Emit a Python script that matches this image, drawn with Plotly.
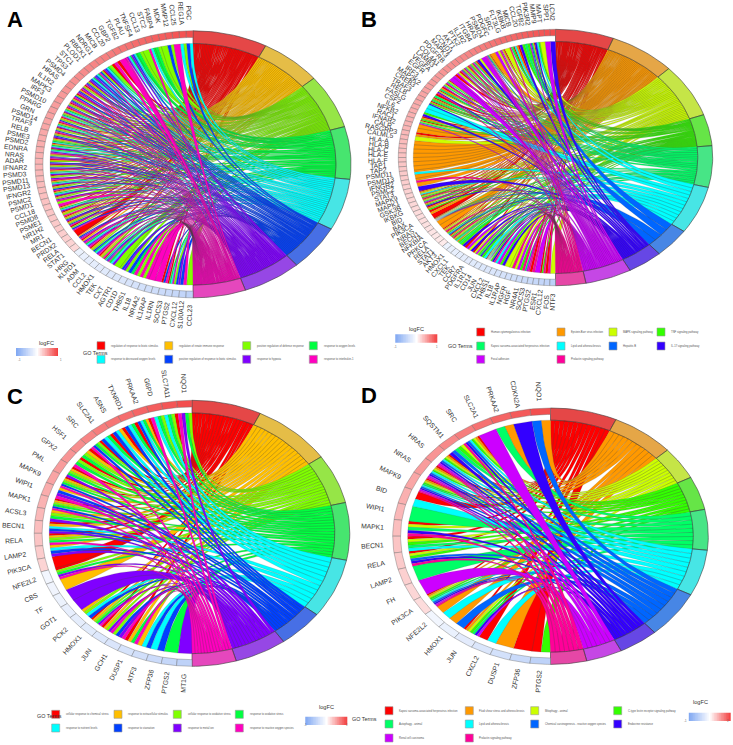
import numpy as np
import plotly.graph_objects as go
from plotly.colors import sample_colorscale

RAIN8 = ["#FF0000", "#FFBF00", "#80FF00", "#00FF40", "#00FFFF", "#0040FF", "#8000FF", "#FF00BF"]
RAIN10 = ["#FF0000", "#FF9900", "#CCFF00", "#33FF00", "#00FF66", "#00FFFF", "#0066FF", "#3300FF", "#CC00FF", "#FF0099"]
LFC_SCALE = [[0, "#7EA6F2"], [0.5, "#FFFFFF"], [1, "#F23A3A"]]

a_terms = ["regulation of response to biotic stimulus", "regulation of innate immune response",
           "positive regulation of defense response", "response to oxygen levels",
           "response to decreased oxygen levels", "positive regulation of response to biotic stimulus",
           "response to hypoxia", "response to interleukin-1"]
a_term_sizes = [27.4, 22.5, 23.7, 22.9, 22.5, 20.0, 21.6, 19.4]
a_genes = ["PGC", "REG1A", "CCL25", "MMP12", "MDK", "FABP4", "STC2", "CCL13", "TNFSF4", "PLAU",
           "TGFB2", "GBP2", "CCL20", "MICB", "NDRG1", "RBCK1", "PLOD1", "STC1", "TP53", "PSMD4",
           "HRAS", "IL1R2", "MAPK3", "IRF3", "PSMD10", "PPARG", "GRN", "PSMD14", "TRAF3", "RELB",
           "PSME3", "PSMD2", "EDNRA", "NRAS", "ADAR", "IFNAR2", "PSMD3", "PSMD11", "PSMD13", "IFNGR2",
           "PSMC2", "PSMD1", "CCL18", "PSMD8", "PSME1", "NR1H2", "MR1", "BECN1", "PRDX2", "RELA",
           "STAT1", "HRG", "KLRD1", "ADM", "CCL2", "HMOX1", "TEK", "CXT", "AGTR1", "CD1D",
           "THBS1", "IL18", "NR4A2", "IL1RAP", "IL1RN", "SOCS3", "PTGS2", "CXCL12", "S100A12", "CCL23"]
a_sets = ["45", "24", "7", "25", "2", "23", "347", "2", "23", "3456",
          "3467", "7", "07", "02", "3456", "0257", "3456", "3456", "012567", "01267",
          "01567", "0257", "012567", "01257", "01346", "012347", "01257", "01346", "01257", "01256",
          "01234", "01346", "03467", "012567", "01256", "01257", "01346", "01267", "01346", "01257",
          "01346", "01267", "27", "01346", "0127", "01256", "01257", "0257", "0", "01567",
          "0167", "3467", "0125", "3467", "0127", "034567", "346", "2", "256", "25",
          "37", "27", "27", "7", "7", "057", "0347", "256", "57", "2"]
a_lfc = [.90, .88, .86, .84, .82, .80, .78, .76, .74, .72, .70, .68, .66, .65, .63, .62, .60, .59, .58, .56,
         .55, .54, .52, .51, .50, .48, .47, .46, .45, .44, .42, .41, .40, .39, .38, .37, .36, .35, .34, .33,
         .32, .31, .30, .29, .28, .27, .26, .25, .24, .22, .20,
         -.15, -.17, -.19, -.20, -.22, -.24, -.26, -.27, -.28, -.30, -.32, -.34, -.36, -.38, -.40, -.42, -.44, -.47, -.50]

b_terms = ["Human cytomegalovirus infection", "Epstein-Barr virus infection", "MAPK signaling pathway",
           "TNF signaling pathway", "Kaposi sarcoma-associated herpesvirus infection", "Lipid and atherosclerosis",
           "Hepatitis B", "IL-17 signaling pathway", "Focal adhesion", "Prolactin signaling pathway"]
b_term_sizes = [21.6, 24.5, 24.4, 14.2, 18.8, 21.7, 13.5, 13.0, 17.1, 11.2]
b_genes = ["LCN2", "SPP1", "MAPT", "MMP9", "PIK3R2", "TGFB2", "CCL20", "MICB", "IKBKB", "FLT3LG",
           "SRC", "PDGFC", "PSMD4", "HRAS", "ITGB4", "IL1R2", "PTK2", "AKT1", "CCND1", "MAPK3",
           "PDGFRB", "COL4A1", "LAMB3", "VEGFA", "EGFR", "IRF3", "MAP2K2", "CREB3", "TRAF3", "RELB",
           "FASLG", "CSF2", "IL6", "NFKB2", "RAC1", "IFNAR2", "CALR", "RASGRP3", "CALML5", "HLA-A",
           "HLA-B", "HLA-C", "HLA-E", "HLA-F", "TAP1", "TAP2", "PSMD11", "PSMD13", "IFNGR2", "PSMC2",
           "STAT3", "MAPK9", "MAPK1", "GSK3B", "IKBKG", "BID", "BAX", "PIK3CA", "NRAS", "BECN1",
           "NFKBIA", "PRKCA", "RELA", "STAT1",
           "AKT3", "HMOX1", "CXCL1", "TEK", "CCR7", "PDGFRA", "IL1R1", "CD14", "JUN", "CXCL2",
           "THBS1", "IL18", "IL1RAP", "NGFR", "HGF", "NR4A1", "SOCS3", "PTGS2", "ESR1", "CXCL12", "FOS", "NTF3"]
b_sets = ["7", "8", "2", "357", "02468", "34", "37", "015", "0349", "2",
          "01289", "28", "1", "0124689", "8", "27", "0148", "0123489", "01248", "0123789",
          "028", "08", "8", "0248", "0248", "014", "0279", "04", "0134", "0137",
          "5", "5", "37", "013", "0248", "1", "1", "01", "2", "1",
          "1", "1", "1", "1", "1", "1", "15", "1", "19", "1",
          "7", "0125", "01239", "01248", "0137", "013", "01", "0", "0124568", "1",
          "1", "0129", "01356", "0139",
          "012345", "134", "37", "08", "27", "028", "2347", "35", "0234579", "379",
          "58", "37", "2", "29", "28", "39", "489", "09", "8", "039", "09", "2"]
b_lfc = [.90, .88, .86, .85, .83, .81, .79, .77, .75, .74, .72, .70, .68, .66, .65, .63, .62, .60, .59, .58,
         .56, .55, .54, .52, .51, .50, .48, .47, .46, .45, .44, .42, .41, .40, .39, .38, .37, .36, .35, .34,
         .33, .32, .31, .30, .29, .28, .27, .26, .25, .24, .23, .22, .21, .20, .19, .18, .17, .16, .15, .14,
         .13, .12, .11, .10,
         -.15, -.17, -.18, -.19, -.20, -.22, -.23, -.24, -.26, -.27, -.28, -.30, -.32, -.34, -.36, -.38, -.40, -.42, -.44, -.46, -.48, -.52]

c_terms = ["cellular response to chemical stress", "response to extracellular stimulus",
           "cellular response to oxidative stress", "response to oxidative stress", "response to nutrient levels",
           "response to starvation", "response to metal ion", "response to reactive oxygen species"]
c_term_sizes = [25.6, 29.3, 21.7, 25.1, 26.0, 16.8, 19.2, 16.3]
c_genes = ["NQO1", "SLC7A11", "G6PD", "PRKAA2", "TXNRD1", "ASNS", "SLC2A1", "SRC", "HSF1", "GPX2", "PML",
           "MAPK9", "WIPI1", "MAPK1", "ACSL3", "BECN1", "RELA", "LAMP2", "PIK3CA", "NFE2L2", "CBS", "TF", "GOT1",
           "PCK2", "HMOX1", "JUN", "GCH1", "DUSP1", "ATF3", "ZFP36", "PTGS2", "MT1G"]
c_sets = ["2367", "0234", "2347", "01345", "0345", "0145", "0345", "02357", "0123", "0237", "01236",
          "012357", "1567", "012357", "1236", "01456", "01237", "1456", "0", "02367", "1", "6", "6",
          "1245", "012367", "01267", "2567", "0137", "145", "45", "3", "6"]
c_lfc = [.90, .86, .82, .78, .74, .70, .66, .62, .58, .54, .50, .46, .42, .39, .36, .33, .30, .26, .22,
         -.10, -.12, -.15, -.18, -.20, -.23, -.26, -.29, -.32, -.36, -.40, -.45, -.50]

d_terms = ["Kaposi sarcoma-associated herpesvirus infection", "Fluid shear stress and atherosclerosis",
           "Mitophagy - animal", "C-type lectin receptor signaling pathway", "Autophagy - animal",
           "Lipid and atherosclerosis", "Chemical carcinogenesis - reactive oxygen species", "Endocrine resistance",
           "Renal cell carcinoma", "Prolactin signaling pathway"]
d_term_sizes = [24.5, 23.3, 14.9, 15.2, 18.4, 20.9, 21.5, 14.7, 13.3, 13.3]
d_genes = ["NQO1", "CDKN2A", "PRKAA2", "SLC2A1", "SRC", "SQSTM1", "HRAS", "NRAS", "MAPK9", "BID", "WIPI1",
           "MAPK1", "BECN1", "RELA", "LAMP2", "FH", "PIK3CA", "NFE2L2", "HMOX1", "JUN", "CXCL2", "DUSP1",
           "ZFP36", "PTGS2"]
d_sets = ["16", "7", "14", "8", "01235679", "23467", "012356789", "012356789", "0123456789", "05", "4",
          "02479", "02345", "023679", "4", "8", "0123456789", "15", "16", "0123478", "05", "1", "0", "03"]
d_lfc = [.90, .84, .78, .72, .66, .60, .54, .50, .45, .40, .36, .33, .30, .27, .24, .21, .18,
         -.10, -.16, -.22, -.28, -.34, -.42, -.50]

# pixel placement of each chord panel: centre and radii
PANELS = [
    dict(letter="A", terms=a_terms, sizes=a_term_sizes, genes=a_genes, sets=a_sets, lfc=a_lfc, colors=RAIN8,
         cx=193.0, cy=164.3, rx=158.0, ry=133.5, lx=15, ly=20,
         bar=(16, 58, 348, 356), lfc_y=343, go=(81, 352.7), rows=[345.7, 359.3],
         sw=[101, 168.7, 246.7, 313.3], ncol=4),
    dict(letter="B", terms=b_terms, sizes=b_term_sizes, genes=b_genes, sets=b_sets, lfc=b_lfc, colors=RAIN10,
         cx=555.5, cy=157.5, rx=157.2, ry=128.2, lx=369, ly=20,
         bar=(395.3, 437.3, 334.3, 342.7), lfc_y=329.3, go=(460, 346), rows=[332, 346, 359.3],
         sw=[480.7, 561, 613, 661], ncol=4),
    dict(letter="C", terms=c_terms, sizes=c_term_sizes, genes=c_genes, sets=c_sets, lfc=c_lfc, colors=RAIN8,
         cx=192.0, cy=533.3, rx=157.8, ry=133.0, lx=15, ly=396,
         bar=(305.3, 347.3, 716.7, 725), lfc_y=711.7, go=(35, 721.3), rows=[714.3, 728],
         sw=[55.7, 118, 177.3, 239.3], ncol=4),
    dict(letter="D", terms=d_terms, sizes=d_term_sizes, genes=d_genes, sets=d_sets, lfc=d_lfc, colors=RAIN10,
         cx=550.5, cy=536.2, rx=157.8, ry=128.2, lx=369, ly=395,
         bar=(688.7, 730.7, 712.7, 721), lfc_y=707.3, go=(364.5, 724), rows=[710.7, 724, 738],
         sw=[389, 469.3, 534.7, 617.7], ncol=4),
]

W, H = 733, 745
R_OUT, R_GENE, R_RIB = 1.0, 0.95, 0.905
LABEL_R = 1.13
FONT = "Liberation Sans, Arial, sans-serif"


def arc(a0, a1, r, n=8):
    ang = np.radians(np.linspace(a0, a1, n))
    return r * np.sin(ang), r * np.cos(ang)


def band(a0, a1, r0, r1):
    x0, y0 = arc(a0, a1, r1, 14)
    x1, y1 = arc(a1, a0, r0, 14)
    return np.r_[x0, x1, x0[0]], np.r_[y0, y1, y0[0]]


def shade(hexcol, k=0.86, alpha=0.72):
    r, g, b = [int(hexcol[i:i + 2], 16) for i in (1, 3, 5)]
    return f"rgba({int(r * k)},{int(g * k)},{int(b * k)},{alpha})"


fig = go.Figure()
layout = dict(width=W, height=H, margin=dict(l=0, r=0, t=0, b=0), showlegend=False,
              paper_bgcolor="white", plot_bgcolor="rgba(0,0,0,0)")
annotations, shapes = [], []


def px_x(v):
    return v / W


def px_y(v):
    return 1 - v / H


for p_i, P in enumerate(PANELS):
    sfx = "" if p_i == 0 else str(p_i + 1)
    xa, ya = "x" + sfx, "y" + sfx
    layout["xaxis" + sfx] = dict(domain=[0, 1], range=[-P["cx"] / P["rx"], (W - P["cx"]) / P["rx"]],
                                 visible=False, fixedrange=True)
    layout["yaxis" + sfx] = dict(domain=[0, 1], range=[-(H - P["cy"]) / P["ry"], P["cy"] / P["ry"]],
                                 visible=False, fixedrange=True)
    genes, sets, lfc, sizes, cols = P["genes"], P["sets"], P["lfc"], P["sizes"], P["colors"]
    assert len(genes) == len(sets) == len(lfc), (P["letter"], len(genes), len(sets), len(lfc))
    n = len(genes)
    step = 180.0 / n

    # term sectors along the right half
    edges = np.r_[0, np.cumsum(sizes)] * 180.0 / sum(sizes)
    nterm = len(sizes)
    counts = [sum(str(t) in s for s in sets) for t in range(nterm)]
    used = [0] * nterm
    rib = [([], []) for _ in range(nterm)]
    s = np.linspace(0, 1, 36)
    for g, st in enumerate(sets):
        sub = step / len(st)
        for k, ch in enumerate(st):
            t = int(ch)
            g0, g1 = g * step + k * sub, g * step + (k + 1) * sub
            w = (edges[t + 1] - edges[t]) / counts[t]
            t0 = edges[t] + used[t] * w
            t1 = t0 + w
            used[t] += 1
            gx0, gy0 = R_RIB * np.sin(np.radians(-g0)), R_RIB * np.cos(np.radians(g0))
            gx1, gy1 = R_RIB * np.sin(np.radians(-g1)), R_RIB * np.cos(np.radians(g1))
            tx0, ty0 = R_RIB * np.sin(np.radians(t0)), R_RIB * np.cos(np.radians(t0))
            tx1, ty1 = R_RIB * np.sin(np.radians(t1)), R_RIB * np.cos(np.radians(t1))
            ax, ay = (1 - s) ** 2 * gx0 + s ** 2 * tx0, (1 - s) ** 2 * gy0 + s ** 2 * ty0
            bx, by = (1 - s) ** 2 * gx1 + s ** 2 * tx1, (1 - s) ** 2 * gy1 + s ** 2 * ty1
            xs = np.r_[ax, bx[::-1], ax[0]]
            ys = np.r_[ay, by[::-1], ay[0]]
            rib[t][0].extend(xs.tolist() + [None])
            rib[t][1].extend(ys.tolist() + [None])
    for t in range(nterm):
        fig.add_trace(go.Scatter(x=rib[t][0], y=rib[t][1], mode="lines", fill="toself", fillcolor=cols[t],
                                 line=dict(color="rgba(70,70,70,0.55)", width=0.3), hoverinfo="skip",
                                 xaxis=xa, yaxis=ya))
    # term ring
    for t in range(nterm):
        bx, by = band(edges[t], edges[t + 1], R_RIB, R_OUT)
        fig.add_trace(go.Scatter(x=bx, y=by, mode="lines", fill="toself", fillcolor=shade(cols[t]),
                                 line=dict(color="#3c3c3c", width=0.6), hoverinfo="skip", xaxis=xa, yaxis=ya))
    # gene ring and labels
    gcols = sample_colorscale(LFC_SCALE, [(v + 1) / 2 for v in lfc])
    for g in range(n):
        bx, by = band(-g * step, -(g + 1) * step, R_GENE, R_OUT)
        fig.add_trace(go.Scatter(x=bx, y=by, mode="lines", fill="toself", fillcolor=gcols[g],
                                 line=dict(color="#6a6a6a", width=0.4), hoverinfo="skip", xaxis=xa, yaxis=ya))
        th = (g + 0.5) * step
        annotations.append(dict(x=-LABEL_R * np.sin(np.radians(th)), y=LABEL_R * np.cos(np.radians(th)),
                                xref=xa, yref=ya, text=genes[g], showarrow=False, textangle=90 - th,
                                xanchor="center", yanchor="middle",
                                font=dict(family=FONT, size=6.8, color="#333333")))
    # panel letter
    annotations.append(dict(x=px_x(P["lx"]), y=px_y(P["ly"]), xref="paper", yref="paper", text=f"<b>{P['letter']}</b>",
                            showarrow=False, xanchor="center", yanchor="middle",
                            font=dict(family=FONT, size=22, color="#000000")))
    # logFC legend
    x0, x1, y0, y1 = P["bar"]
    k = p_i + 5
    layout[f"xaxis{k}"] = dict(domain=[px_x(x0), px_x(x1)], range=[-1, 1], visible=False, fixedrange=True)
    layout[f"yaxis{k}"] = dict(domain=[px_y(y1), px_y(y0)], range=[0, 1], visible=False, fixedrange=True)
    zz = np.linspace(-1, 1, 61)
    fig.add_trace(go.Heatmap(x=zz, y=[0, 1], z=[zz, zz], colorscale=LFC_SCALE, zmin=-1, zmax=1, showscale=False,
                             hoverinfo="skip", xaxis=f"x{k}", yaxis=f"y{k}"))
    annotations.append(dict(x=px_x((x0 + x1) / 2), y=px_y(P["lfc_y"]), xref="paper", yref="paper", text="logFC",
                            showarrow=False, font=dict(family=FONT, size=5.6, color="#333333")))
    for tx, lab in ((x0, "-1"), (x1, "1")):
        annotations.append(dict(x=px_x(tx), y=px_y(y1 + 4), xref="paper", yref="paper", text=lab,
                                showarrow=False, font=dict(family=FONT, size=2.7, color="#555555")))
    annotations.append(dict(x=px_x(P["go"][0]), y=px_y(P["go"][1]), xref="paper", yref="paper", text="GO Terms",
                            showarrow=False, font=dict(family=FONT, size=5.4, color="#333333")))
    # term legend
    for t, name in enumerate(P["terms"]):
        col = P["sw"][t % P["ncol"]]
        row = P["rows"][t // P["ncol"]]
        shapes.append(dict(type="rect", xref="paper", yref="paper", x0=px_x(col - 4), x1=px_x(col + 4),
                           y0=px_y(row + 4), y1=px_y(row - 4), fillcolor=cols[t],
                           line=dict(color="#9a9a9a", width=0.6)))
        annotations.append(dict(x=px_x(col + 8.2), y=px_y(row), xref="paper", yref="paper", text=name, showarrow=False,
                                xanchor="left", yanchor="middle",
                                font=dict(family=FONT, size=2.7, color="#555555")))

fig.update_layout(**layout, annotations=annotations, shapes=shapes)
fig.write_html("out.html", config={"displayModeBar": False}, post_script="document.body.style.margin='0';")
